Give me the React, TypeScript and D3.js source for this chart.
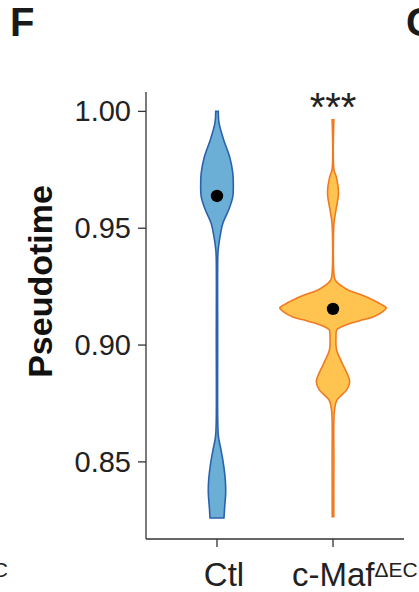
import React from "react";
import * as d3 from "d3";

const categories = ["Ctl", "c-Maf"];
const yTicks = [0.85, 0.9, 0.95, 1.0];
const yTickLabels = ["0.85", "0.90", "0.95", "1.00"];

// violin profiles: [pseudotime, relative density]
const ctlProfile: [number, number][] = [
  [1.0, 0.024], [0.9951, 0.038], [0.9878, 0.126], [0.9805, 0.238], [0.9737, 0.296],
  [0.969, 0.306], [0.9634, 0.296], [0.9579, 0.22], [0.9523, 0.113], [0.9463, 0.056],
  [0.9408, 0.023], [0.9377, 0.015], [0.902, 0.013], [0.8667, 0.015], [0.8607, 0.028],
  [0.8551, 0.075], [0.8496, 0.118], [0.8423, 0.156], [0.8367, 0.163], [0.8307, 0.144],
  [0.826, 0.131],
];
const mafProfile: [number, number][] = [
  [0.9964, 0.017], [0.975, 0.019], [0.972, 0.062], [0.9651, 0.103], [0.9578, 0.056],
  [0.9523, 0.019], [0.9292, 0.024], [0.9275, 0.05], [0.9253, 0.16], [0.9236, 0.28],
  [0.9215, 0.53], [0.9193, 0.75], [0.9172, 0.92], [0.9159, 1.0], [0.9144, 0.94],
  [0.912, 0.75], [0.9108, 0.56], [0.9095, 0.36], [0.9078, 0.16], [0.9065, 0.07],
  [0.9035, 0.056], [0.898, 0.066], [0.8924, 0.169], [0.8864, 0.29], [0.8842, 0.313],
  [0.8808, 0.257], [0.8765, 0.075], [0.8723, 0.028], [0.85, 0.017], [0.8265, 0.015],
];
const profiles = [ctlProfile, mafProfile];
const centers = [0.9638, 0.9155];
const fills = ["#6baed6", "#fec44f"];
const strokes = ["#2b62ad", "#f07a22"];

const FONT = "'Liberation Sans', Arial, Helvetica, sans-serif";

export default function App() {
  const W = 419, H = 592;
  const left = 146, right = 404, top = 92, bottom = 539;
  const y = d3.scaleLinear().domain([0.817, 1.0083]).range([bottom, top]);
  const x = d3.scalePoint<string>().domain(categories).range([left, right]).padding(0.612);
  const w = d3.scaleLinear().domain([0, 1]).range([0, 53.3]);

  return (
    <svg width={W} height={H} style={{ position: "absolute", left: 0, top: 0, background: "#fff" }}
      fontFamily={FONT}>
      <text x={10} y={36} fontSize={40} fontWeight="bold" fill="#1a1a1a">F</text>
      <text x={406} y={36} fontSize={40} fontWeight="bold" fill="#1a1a1a">G</text>
      <text x={8} y={577} fontSize={21} textAnchor="end" fill="#222">ΔEC</text>

      {/* violins */}
      {categories.map((c, i) => {
        const cx = x(c)!;
        const area = d3.area<[number, number]>()
          .y((d) => y(d[0]))
          .x0((d) => cx - w(d[1]))
          .x1((d) => cx + w(d[1]))
          .curve(d3.curveCatmullRom.alpha(0.5));
        return (
          <g key={c}>
            <path d={area(profiles[i])!} fill={fills[i]} stroke={strokes[i]} strokeWidth={1.6} />
            <circle cx={cx} cy={y(centers[i])} r={6.2} fill="#000" />
          </g>
        );
      })}

      {/* y axis */}
      <line x1={left} x2={left} y1={top} y2={bottom} stroke="#333" strokeWidth={1.3} />
      {yTicks.map((t, i) => (
        <g key={t}>
          <line x1={left - 8} x2={left} y1={y(t)} y2={y(t)} stroke="#333" strokeWidth={1.3} />
          <text x={left - 15} y={y(t) + 10} fontSize={29} textAnchor="end" fill="#222">{yTickLabels[i]}</text>
        </g>
      ))}
      {/* x axis */}
      <line x1={left} x2={right} y1={bottom} y2={bottom} stroke="#333" strokeWidth={1.3} />
      {categories.map((c) => (
        <line key={c} x1={x(c)!} x2={x(c)!} y1={bottom} y2={bottom + 8} stroke="#333" strokeWidth={1.3} />
      ))}
      <text x={x("Ctl")! + 7} y={586} fontSize={33} textAnchor="middle" fill="#222">Ctl</text>
      <text x={x("c-Maf")! - 41} y={586} fontSize={33} fill="#222">
        c-Maf<tspan fontSize={21} dy={-9}>ΔEC</tspan>
      </text>

      <text x={x("c-Maf")!} y={121} fontSize={40} textAnchor="middle" fill="#222">***</text>

      <text transform={`translate(52, 281.5) rotate(-90)`} fontSize={34} fontWeight="bold"
        textAnchor="middle" fill="#111">Pseudotime</text>
    </svg>
  );
}
